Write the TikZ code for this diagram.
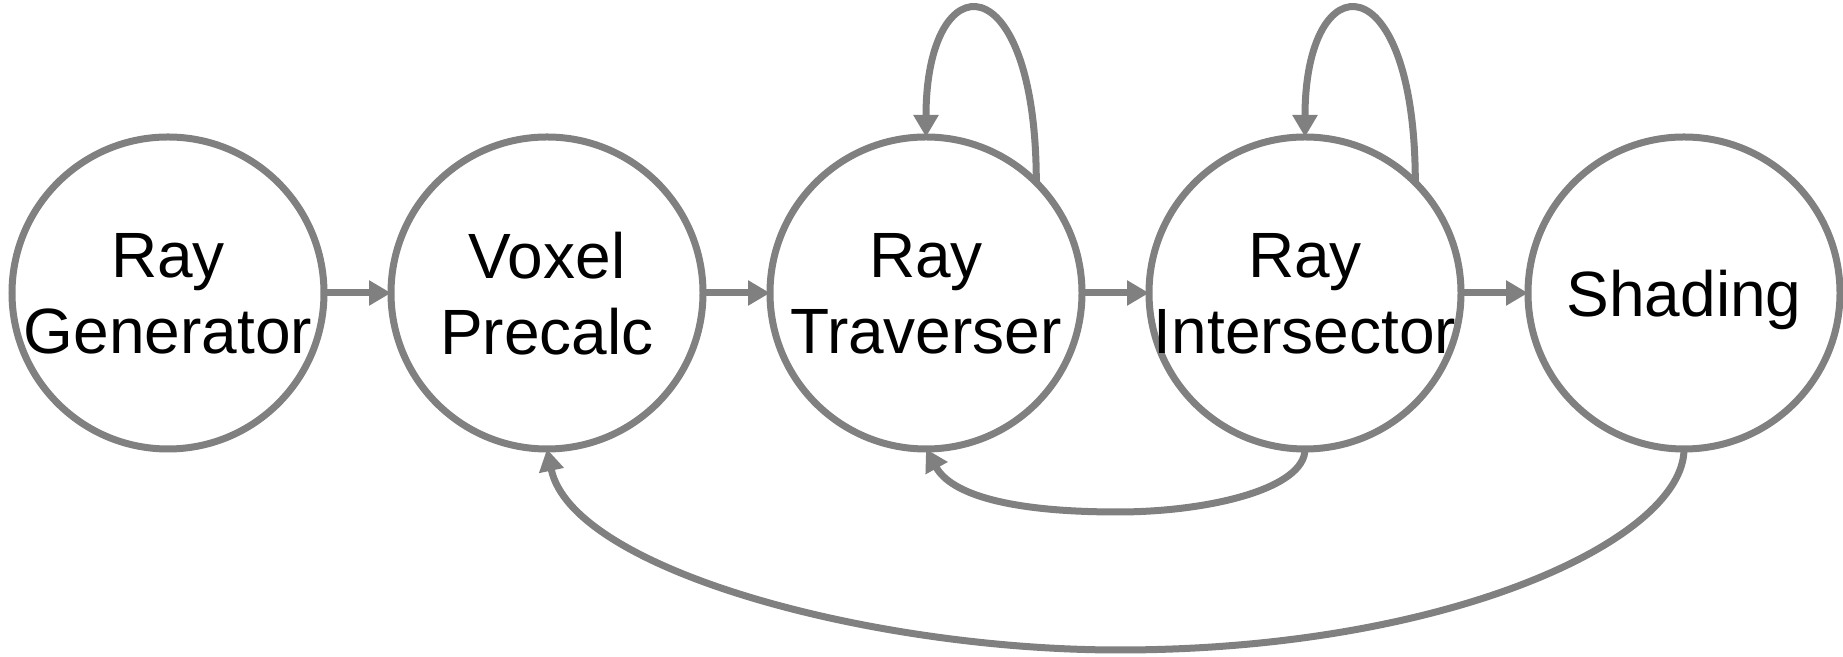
\documentclass[tikz,border=0pt]{standalone}
\usepackage{fontspec}
\setmainfont{Liberation Sans}
\usetikzlibrary{shapes,arrows.meta,positioning}
\definecolor{linegray}{HTML}{808080}
\newcommand{\stagefont}{\fontsize{32pt}{38pt}\selectfont}
\tikzstyle{stage}     = [circle, draw=linegray, line width=3.5pt, minimum size=156pt, inner sep=0pt, outer sep=0pt]
\tikzstyle{stagename} = [align=center, font=\stagefont, text=black, text depth=0pt]
\tikzstyle{link}      = [draw=linegray, line width=3.5pt]
\tikzstyle{line}      = [link, -{Triangle[length=11pt, width=12pt]}]

\begin{document}
\begin{tikzpicture}[x=0.5pt, y=0.5pt, node distance=189.5pt]
        \useasboundingbox (0,0) rectangle (1843,657);
        \node [stage, label={[stagename]center:Ray\\Generator}] (raygen) at (168,364) {};
        \node [stage, label={[stagename]center:Voxel\\Precalc}, right of=raygen] (precalc) {};
        \node [stage, label={[stagename]center:Ray\\Traverser}, right of=precalc] (trav) {};
        \node [stage, label={[stagename]center:Ray\\Intersector}, right of=trav] (inter) {};
        \node [stage, label={[stagename]center:Shading}, right of=inter] (shade) {};

        % low points of the two return paths
        \coordinate (retlow) at (1118,145);
        \coordinate (shadelow) at (1119,7);

        \path [line] (raygen) -- (precalc);
        \path [line] (precalc) -- (trav);
        \path [line] (trav) -- (inter);
        \path [line] (inter) -- (shade);

        % self loops
        \path [line] (trav.45) .. controls +(0,222) and +(0,177) .. (trav.north);
        \path [line] (inter.45) .. controls +(0,222) and +(0,177) .. (inter.north);

        % back to the traverser
        \path [link] (inter.south) .. controls +(0,-40) and +(90,0) .. (retlow);
        \path [line] (retlow) .. controls +(-110,0) and +(25,-45) .. (trav.south);

        % back to the precalc stage
        \path [link] (shade.south) .. controls +(0,-90) and +(330,0) .. (shadelow);
        \path [line] (shadelow) .. controls +(-250,0) and +(25,-120) .. (precalc.south);
      \end{tikzpicture}
\end{document}
